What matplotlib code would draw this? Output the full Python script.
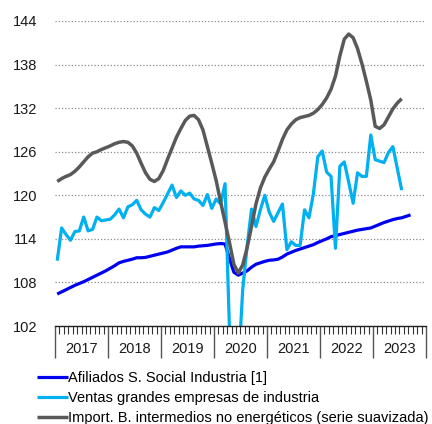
import numpy as np
import matplotlib
matplotlib.use("Agg")
import matplotlib.pyplot as plt
import matplotlib.transforms as mtransforms

plt.rcParams['font.family'] = ['Liberation Sans', 'DejaVu Sans']

# datos mensuales desde enero 2017
years = ['2017', '2018', '2019', '2020', '2021', '2022', '2023']

afiliados = [106.4, 106.7, 107.0, 107.3, 107.6, 107.85, 108.1, 108.4, 108.7, 109.0, 109.3, 109.6,
             109.95, 110.3, 110.7, 110.9, 111.05, 111.2, 111.4, 111.4, 111.45, 111.6, 111.75, 111.9,
             112.05, 112.2, 112.45, 112.7, 112.9, 112.9, 112.9, 112.9, 113.0, 113.05, 113.1, 113.2,
             113.3, 113.35, 113.3, 111.3, 109.4, 109.0, 109.3, 109.6, 110.1, 110.5, 110.7, 110.9,
             111.05, 111.1, 111.2, 111.5, 111.9, 112.15, 112.4, 112.6, 112.8, 113.0, 113.2, 113.5,
             113.75, 114.0, 114.3, 114.45, 114.6, 114.75, 114.9, 115.05, 115.2, 115.3, 115.4, 115.5,
             115.75, 116.0, 116.25, 116.45, 116.65, 116.8, 116.9, 117.1, 117.3]

ventas = [111.0, 115.5, 114.6, 113.8, 115.0, 115.1, 117.0, 115.1, 115.3, 117.0, 116.5, 116.6,
          116.7, 117.3, 118.1, 116.9, 118.4, 118.7, 119.3, 118.0, 117.4, 117.0, 118.3, 117.9,
          119.0, 120.2, 121.4, 119.7, 120.6, 120.0, 120.3, 119.5, 119.3, 118.6, 120.1, 118.2,
          119.5, 118.8, 121.6, 101.5, 75.0, 96.0, 107.0, 113.0, 118.1, 115.7, 118.0, 120.0,
          117.7, 116.4, 117.6, 118.8, 112.5, 113.6, 113.1, 113.1, 118.0, 116.9, 120.2, 125.3,
          126.1, 123.2, 122.6, 112.7, 124.0, 124.6, 121.8, 118.9, 123.1, 122.6, 122.6, 128.3,
          124.9, 124.7, 124.5, 125.9, 126.7, 123.7, 120.7]

importaciones = [121.9, 122.3, 122.6, 122.85, 123.3, 123.9, 124.6, 125.3, 125.8, 126.0, 126.3, 126.55,
                 126.8, 127.1, 127.3, 127.4, 127.3, 126.8, 125.8, 124.4, 123.1, 122.2, 121.9, 122.3,
                 123.4, 125.0, 126.5, 128.0, 129.2, 130.3, 130.9, 131.0, 130.4, 129.0, 126.7, 124.4,
                 122.0, 119.1, 116.3, 113.5, 110.5, 109.3, 110.4, 112.8, 115.7, 118.8, 121.0, 122.5,
                 123.6, 124.6, 126.1, 127.7, 129.0, 129.8, 130.4, 130.7, 130.85, 131.0, 131.3, 131.8,
                 132.5, 133.4, 134.6, 136.4, 139.2, 141.5, 142.2, 141.7, 140.2, 138.1, 135.7, 133.1,
                 129.5, 129.2, 129.7, 130.8, 131.9, 132.7, 133.3]

labels = ['Afiliados S. Social Industria [1]',
          'Ventas grandes empresas de industria',
          'Import. B. intermedios no energéticos (serie suavizada)']

fig = plt.figure(figsize=(4.32, 4.24), dpi=100)
ax = fig.add_axes([55/432, 98/424, 371/432, 305/424])

ax.plot(np.arange(len(afiliados)) + 0.5, afiliados, color='#0000F0', lw=2.3,
        label=labels[0], solid_capstyle='butt')
ax.plot(np.arange(len(ventas)) + 0.5, ventas, color='#00B0F0', lw=2.3,
        label=labels[1], solid_capstyle='butt')
ax.plot(np.arange(len(importaciones)) + 0.5, importaciones, color='#595959', lw=2.5,
        label=labels[2], solid_capstyle='butt')

nmeses = 12 * len(years)
ax.set_xlim(0, nmeses)
ax.set_ylim(102, 144)
ax.set_yticks(np.arange(102, 145, 6))
ax.yaxis.grid(True, linestyle=(0, (1, 1.6)), color='#8c8c8c', lw=0.9)
ax.set_axisbelow(True)

for s in ['left', 'right', 'top']:
    ax.spines[s].set_visible(False)
ax.spines['bottom'].set_color('#222222')
ax.spines['bottom'].set_linewidth(1.0)

ax.tick_params(axis='y', length=0, pad=13, labelsize=10.5, labelcolor='#1a1a1a')
ax.set_xticks(np.arange(0, nmeses + 1, 12))
ax.set_xticks(np.arange(0, nmeses + 1, 1), minor=True)
ax.set_xticklabels([])
ax.tick_params(axis='x', which='major', length=23, width=1.0, color='#555555')
ax.tick_params(axis='x', which='minor', length=5.5, width=0.8, color='#333333')

trans = mtransforms.blended_transform_factory(ax.transData, ax.transAxes)
for k, yr in enumerate(years):
    ax.text(12 * k + 6, -0.075, yr, transform=trans, ha='center', va='center',
            fontsize=10.5, color='#1a1a1a')

fig.legend(loc='upper left', bbox_to_anchor=(37/432, 1 - 371/424), frameon=False,
           fontsize=10.5, handlelength=2.1, handletextpad=0.05, labelspacing=0.42,
           borderpad=0, borderaxespad=0)

fig.savefig('out.png', dpi=100)
